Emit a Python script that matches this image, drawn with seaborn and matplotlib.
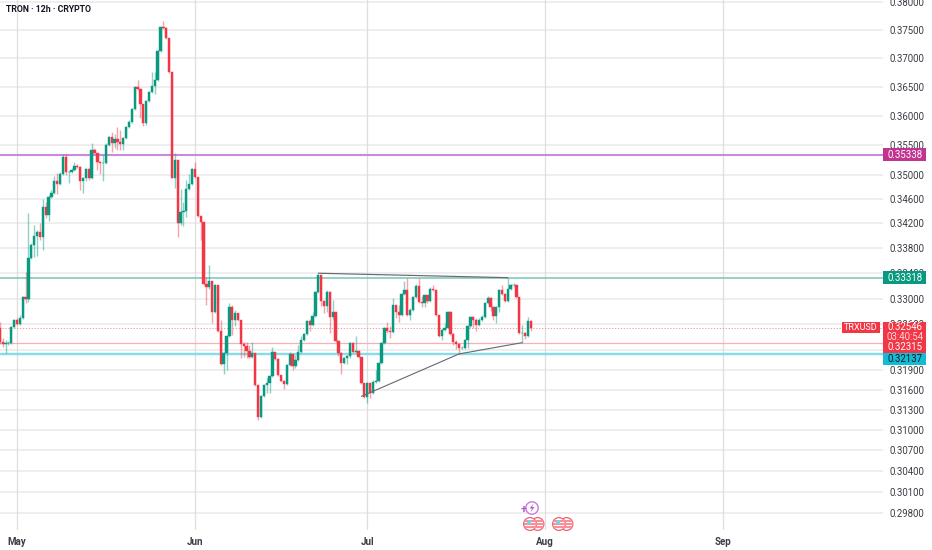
import matplotlib
matplotlib.use('Agg')
import matplotlib.pyplot as plt
import matplotlib.dates as mdates
from matplotlib.patches import Circle, Polygon, Rectangle
from matplotlib.transforms import IdentityTransform
import pandas as pd
import seaborn as sns

# 12h candles, first one opens on 28 Apr
start = '2025-04-28'
first_open = 0.32543
closes = [
    .32326, .32295, .32310, .32310, .32558, .32667, .32605, .32698, .33024, .32993,
    .33644, .33851, .33997, .34062, .33981, .34470, .34340, .34636, .34702, .34901,
    .34852, .35018, .35300, .35051, .35051, .35084, .35150, .35134, .34901, .34951,
    .35101, .34951, .35416, .35366, .35217, .35200, .35200, .35499, .35636, .35533,
    .35602, .35551, .35516, .35619, .35807, .35893, .36115, .36495, .36460, .36201,
    .35876, .36252, .36407, .36512, .36617, .37125, .37555, .37537, .37360, .36757,
    .34951, .35250, .34209, .34388, .34405, .34769, .34852, .35101, .34968, .34323,
    .34225, .33230, .33183, .33278, .32791, .33214, .32496, .31991, .32157, .32419,
    .32869, .32667, .32776, .32667, .32295, .32264, .32187, .32096, .32157, .31672,
    .31192, .31506, .31672, .31702, .31809, .32172, .32066, .31825, .31734, .31687,
    .31976, .32142, .31960, .32051, .32172, .32357, .32450, .32652, .32590, .32729,
    .33103, .33373, .32962, .32884, .33103, .32713, .32791, .32342, .32157, .32006,
    .32081, .32111, .32310, .32172, .32187, .32096, .31702, .31490, .31702, .31551,
    .31717, .31734, .32006, .32310, .32543, .32496, .32481, .32900, .32791, .32745,
    .33071, .33135, .32745, .32822, .33024, .33199, .32946, .32931, .33056, .32962,
    .33151, .33135, .32745, .32419, .32512, .32543, .32791, .32450, .32326, .32295,
    .32233, .32233, .32357, .32574, .32713, .32667, .32590, .32667, .32713, .32931,
    .33009, .32869, .32729, .32869, .33135, .33071, .32962, .33151, .33214, .33214,
    .33024, .32465, .32465, .32419, .32652, .32546,
]
highs = [
    .32636, .32388, .32357, .32342, .32574, .32682, .32698, .32745, .33040, .33421,
    .34372, .33883, .34176, .34095, .34209, .34600, .34551, .34669, .34752, .34984,
    .35034, .35051, .35350, .35350, .35067, .35117, .35217, .35184, .35150, .34968,
    .35117, .35117, .35533, .35450, .35366, .35233, .35333, .35533, .35653, .35722,
    .35688, .35807, .35756, .35636, .35825, .35927, .36132, .36512, .36617, .36477,
    .36201, .36269, .36425, .36757, .36757, .37142, .37573, .37662, .37555, .37360,
    .36757, .35366, .35250, .34769, .34551, .34918, .35018, .35117, .35217, .34968,
    .34323, .34225, .33342, .33532, .33278, .33230, .33214, .32667, .32172, .32435,
    .32931, .32900, .32822, .32776, .32667, .32326, .32326, .32280, .32326, .32157,
    .31672, .31520, .31687, .31779, .31825, .32249, .32172, .32081, .31825, .31749,
    .31991, .32172, .32142, .32127, .32280, .32419, .32465, .32667, .32682, .32791,
    .33119, .33389, .33373, .32977, .33135, .33119, .32977, .32791, .32357, .32172,
    .32096, .32127, .32326, .32326, .32419, .32202, .32096, .31702, .31717, .31702,
    .31749, .31900, .32021, .32326, .32558, .32636, .32574, .33009, .32900, .32900,
    .33087, .33278, .33326, .32853, .33040, .33230, .33326, .33040, .33071, .33056,
    .33183, .33214, .33151, .32745, .32527, .32620, .32806, .32806, .32465, .32357,
    .32310, .32264, .32372, .32590, .32729, .32729, .32698, .32698, .32745, .32946,
    .33040, .33024, .32884, .32884, .33151, .33214, .33087, .33326, .33230, .33246,
    .33230, .33024, .32590, .32481, .32713, .32667,
]
lows = [
    .32295, .32249, .32157, .32280, .32295, .32543, .32590, .32590, .32682, .32931,
    .32946, .33628, .33660, .33676, .33932, .33771, .34291, .34242, .34619, .34686,
    .34686, .34835, .35001, .35001, .34868, .35034, .35067, .35117, .34752, .34702,
    .34901, .34918, .34935, .35350, .35084, .35018, .34901, .35184, .35482, .35383,
    .35450, .35416, .35416, .35416, .35602, .35790, .35876, .36098, .36442, .35961,
    .35825, .35842, .36235, .36390, .36372, .36600, .37107, .37519, .37342, .36740,
    .34951, .34785, .33981, .34176, .34160, .34307, .34752, .34835, .34951, .34307,
    .33932, .33214, .32900, .33151, .32620, .32776, .32481, .31976, .31840, .31900,
    .32404, .32435, .32574, .32652, .32081, .32096, .32081, .32081, .32081, .31658,
    .31147, .31177, .31490, .31551, .31551, .31794, .32051, .31809, .31717, .31613,
    .31672, .31960, .31900, .31930, .32036, .32157, .32342, .32435, .32496, .32574,
    .32713, .33087, .32884, .32776, .32791, .32465, .32667, .32326, .32111, .31840,
    .31991, .31991, .32081, .32157, .32157, .32081, .31687, .31475, .31400, .31475,
    .31536, .31702, .31717, .31991, .32295, .32465, .32388, .32465, .32698, .32636,
    .32729, .33056, .32729, .32667, .32806, .33009, .32931, .32869, .32869, .32931,
    .32946, .33119, .32729, .32404, .32357, .32496, .32527, .32435, .32280, .32218,
    .32142, .32218, .32218, .32233, .32543, .32543, .32496, .32574, .32652, .32698,
    .32915, .32806, .32667, .32620, .32791, .33056, .32946, .32946, .33135, .33183,
    .33009, .32450, .32310, .32372, .32404, .32496,
]

price_ticks = [.380, .375, .370, .365, .360, .355, .350, .346, .342, .338, .334,
               .330, .326, .322, .319, .316, .313, .310, .307, .304, .301, .298]
month_ticks = ['2025-05-01', '2025-06-01', '2025-07-01', '2025-08-01', '2025-09-01']
month_labels = ['May', 'Jun', 'Jul', 'Aug', 'Sep']

level_purple = 0.35338
level_green = 0.33318
level_cyan = 0.32137
level_pink = 0.32315
last_price = 0.32546

top_line_dates = ['2025-06-22 12:00', '2025-07-25 12:00']
top_line_prices = [0.33400, 0.33330]
low_line_dates = ['2025-06-30 00:00', '2025-07-17 00:00', '2025-07-28 00:00']
low_line_prices = [0.31500, 0.32142, 0.32315]

UP = '#089981'
DOWN = '#f23645'
TXT = '#3a3d45'
FS = 6.9

sns.set_theme(style='white')
plt.rcParams['font.family'] = ['Roboto', 'DejaVu Sans']

df = pd.DataFrame({'close': closes, 'high': highs, 'low': lows})
df['date'] = pd.date_range(start, periods=len(df), freq='12h')
df['num'] = mdates.date2num(df['date'])
df['open'] = df['close'].shift(1).fillna(first_open)
df['colour'] = [UP if c >= o else DOWN for o, c in zip(df['open'], df['close'])]

fig = plt.figure(figsize=(9.32, 5.5), dpi=100)
ax = fig.add_axes([0, 20 / 550, 883 / 932, 530 / 550])
ax.set_yscale('log')

# grid by hand so the minor log ticks stay out of it
for p in price_ticks:
    ax.axhline(p, color='#e9e9e9', lw=1.1, zorder=0)
for d in month_ticks:
    ax.axvline(mdates.date2num(pd.Timestamp(d)), color='#dedede', lw=0.9, zorder=0)


def level(price, colour, lw, ls='-'):
    lv = pd.DataFrame({'x': [df['num'].min() - 30, df['num'].max() + 200], 'y': [price, price]})
    sns.lineplot(data=lv, x='x', y='y', color=colour, lw=lw, ls=ls, ax=ax, zorder=1, estimator=None)


level(level_purple, '#c98bd9', 1.5)
level(level_green, '#74c7b6', 1.1)
level(level_cyan, '#84dde8', 1.7)
level(level_pink, '#fbaeb4', 0.9)
level(last_price, '#f5868f', 0.6, ls=(0, (1.5, 2)))

# candles
ax.vlines(df['num'], df['low'], df['high'], colors=df['colour'], lw=1.0, alpha=0.45, zorder=2)
ax.bar(df['num'], (df['close'] - df['open']).abs(), bottom=df[['open', 'close']].min(axis=1),
       width=0.40, color=df['colour'], linewidth=0.3, edgecolor=df['colour'], zorder=3)

# trend lines
top = pd.DataFrame({'x': mdates.date2num(pd.to_datetime(top_line_dates)), 'y': top_line_prices})
low = pd.DataFrame({'x': mdates.date2num(pd.to_datetime(low_line_dates)), 'y': low_line_prices})
sns.lineplot(data=top, x='x', y='y', color='#66696f', lw=0.85, ax=ax, zorder=4, estimator=None)
sns.lineplot(data=low, x='x', y='y', color='#66696f', lw=0.8, ax=ax, zorder=4, estimator=None)

may1 = mdates.date2num(pd.Timestamp('2025-05-01'))
ax.set_xlim(may1 - 17 / 5.74, may1 + 866 / 5.74)
ax.set_ylim(0.2956, 0.38036)
ax.set_xlabel('')
ax.set_ylabel('')
for s in ax.spines.values():
    s.set_visible(False)

ax.yaxis.tick_right()
ax.minorticks_off()
ax.set_yticks(price_ticks)
ax.set_yticklabels([f'{p:.5f}' for p in price_ticks])
ax.tick_params(axis='y', length=0, pad=5, labelsize=FS, labelcolor=TXT)
ax.set_xticks(mdates.date2num(pd.to_datetime(month_ticks)))
ax.set_xticklabels(month_labels, fontweight='bold')
ax.tick_params(axis='x', length=0, pad=5, labelsize=7, labelcolor=TXT)

fig.text(6 / 932, 1 - 10 / 550, 'TRON · 12h · CRYPTO', fontsize=6.3, fontweight='bold',
         color='#131722', va='center', ha='left')

px = IdentityTransform()


# pixel helpers for the price badges and event icons
def box(x0, y0, x1, y1, colour):
    fig.add_artist(Rectangle((x0, 550 - y1), x1 - x0, y1 - y0, facecolor=colour, edgecolor='none',
                             transform=px, zorder=5))


def badge_text(x, y, s, colour='white', alpha=1, size=FS):
    fig.text(x / 932, 1 - y / 550, s, fontsize=size, color=colour, alpha=alpha,
             va='center', ha='center', zorder=6)


box(883, 148, 926, 161, '#c2348f')
badge_text(905, 154.5, '0.35338')
box(883, 271, 926, 284, '#089981')
badge_text(905, 278, '0.33318')
box(842, 322, 880, 333, DOWN)
badge_text(861, 327.5, 'TRXUSD', size=6.5)
box(883, 322, 926, 353, DOWN)
badge_text(905, 327.5, '0.32546')
badge_text(905, 337.5, '03:40:54', alpha=0.8)
badge_text(905, 347.5, '0.32315')
box(883, 353, 926, 365, '#12bcd4')
badge_text(905, 358.5, '0.32137', colour='#131722')


def flag(cx, cy):
    for dx in (7.5, 0):
        c = Circle((cx + dx, 550 - cy), 6.4, facecolor='white', edgecolor='#f5616f',
                   lw=0.9, transform=px, zorder=5)
        fig.add_artist(c)
        for dy in (-3, 0, 3):
            r = Rectangle((cx + dx - 6, 550 - cy + dy - 0.6), 12, 1.2, facecolor='#f98f98',
                          edgecolor='none', transform=px, zorder=6)
            fig.add_artist(r)
            r.set_clip_path(c)
    fig.add_artist(Polygon([(cx - 4, 550 - cy), (cx + 1, 550 - cy), (cx + 1, 550 - cy + 4.5), (cx - 2, 550 - cy + 4.5)],
                           facecolor='#7fd3d8', edgecolor='none', transform=px, zorder=7))


flag(530, 524)
flag(559, 524)
fig.add_artist(Circle((532, 550 - 508), 6.2, facecolor='white', edgecolor='#c77bdb', lw=1.0,
                      transform=px, zorder=5))
# small lightning bolt inside the circle
fig.add_artist(Polygon([(533.5, 550 - 503.5), (529.5, 550 - 508.5), (532, 550 - 508.5), (530.5, 550 - 512.5),
                        (534.5, 550 - 507), (532, 550 - 507)],
                       facecolor='#b45fd0', edgecolor='none', transform=px, zorder=6))
fig.text(523.5 / 932, 1 - 510 / 550, '+', fontsize=8, fontweight='bold', color='#b45fd0',
         ha='center', va='center', zorder=6)

fig.savefig('out.png', dpi=100)
